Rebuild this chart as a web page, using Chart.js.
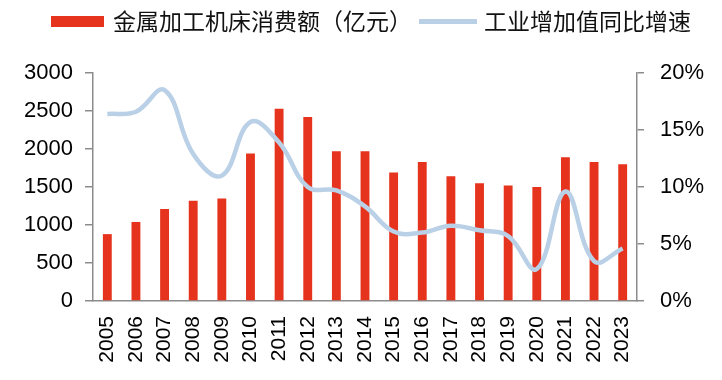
<!DOCTYPE html>
<html>
<head>
<meta charset="utf-8">
<script src="https://cdn.jsdelivr.net/npm/chart.js@4"></script>
<style>
  html,body{margin:0;padding:0;background:#fff;}
  #wrap{position:relative;width:722px;height:380px;overflow:hidden;}
  #c{position:absolute;left:0;top:0;}
  .lg{position:absolute;font-family:"Noto Sans CJK SC","Noto Sans",sans-serif;font-size:23px;color:#111;line-height:1;white-space:nowrap;}
  .sw{position:absolute;}
</style>
</head>
<body>
<div id="wrap">
  <canvas id="c" width="722" height="380"></canvas>
  <div class="sw" id="sw1" style="left:51px;top:16px;width:53px;height:11px;"></div>
  <div class="lg" id="lt1" style="left:113px;top:9px;"></div>
  <div class="sw" id="sw2" style="left:419px;top:19px;width:58px;height:5px;"></div>
  <div class="lg" id="lt2" style="left:484px;top:9px;"></div>
</div>
<script>
const years = ["2005","2006","2007","2008","2009","2010","2011","2012","2013","2014","2015","2016","2017","2018","2019","2020","2021","2022","2023"];
const consumption = [880,1040,1210,1320,1350,1940,2530,2420,1970,1970,1690,1830,1640,1550,1520,1500,1890,1830,1800];
const growth = [16.4,16.6,18.5,12.9,11.0,15.7,13.9,10.0,9.7,8.3,6.1,6.0,6.6,6.2,5.7,2.8,9.6,3.5,4.6];
const leftTicks = [0,500,1000,1500,2000,2500,3000];
const rightTicks = [0,5,10,15,20];
const seriesNames = ["金属加工机床消费额（亿元）","工业增加值同比增速"];

const RED = "#e5331d";
const BLUE = "#b9d0e6";
const AXIS = "#8c8c8c";

document.getElementById("sw1").style.background = RED;
document.getElementById("sw2").style.background = BLUE;
document.getElementById("lt1").textContent = seriesNames[0];
document.getElementById("lt2").textContent = seriesNames[1];

const tickFont = {family:"'Liberation Sans', Arial, sans-serif", size:22};

new Chart(document.getElementById("c"), {
  data: {
    labels: years,
    datasets: [
      {type:"bar", label:seriesNames[0], data:consumption, backgroundColor:RED, borderWidth:0,
       barPercentage:0.31, categoryPercentage:1, yAxisID:"y", order:2},
      {type:"line", label:seriesNames[1], data:growth, borderColor:BLUE, borderWidth:4.5,
       pointRadius:0, tension:0.4, fill:false, yAxisID:"y1", order:1}
    ]
  },
  options: {
    responsive:false,
    animation:false,
    layout:{padding:{top:73,left:0,right:0,bottom:0}},
    plugins:{legend:{display:false}, tooltip:{enabled:false}},
    scales:{
      x:{
        grid:{display:false, drawTicks:false},
        border:{display:true, color:AXIS, width:1.5},
        ticks:{color:"#000", font:{family:"'Liberation Sans', Arial, sans-serif", size:21}, minRotation:90, maxRotation:90, padding:15, autoSkip:false},
        afterFit:(s)=>{s.height = 79;}
      },
      y:{
        position:"left", min:0, max:3000,
        afterBuildTicks:(s)=>{s.ticks = leftTicks.map(v=>({value:v}));},
        grid:{drawOnChartArea:false, drawTicks:true, tickLength:8, color:AXIS, lineWidth:1.5},
        border:{display:true, color:AXIS, width:1.5},
        ticks:{color:"#000", font:tickFont, padding:12, callback:(v)=>String(v)},
        afterFit:(s)=>{s.width = 93;}
      },
      y1:{
        position:"right", min:0, max:20,
        afterBuildTicks:(s)=>{s.ticks = rightTicks.map(v=>({value:v}));},
        grid:{drawOnChartArea:false, drawTicks:true, tickLength:7, color:AXIS, lineWidth:1.5},
        border:{display:true, color:AXIS, width:1.5},
        ticks:{color:"#000", font:tickFont, padding:16, callback:(v)=>v+"%"},
        afterFit:(s)=>{s.width = 85;}
      }
    }
  }
});
</script>
</body>
</html>
